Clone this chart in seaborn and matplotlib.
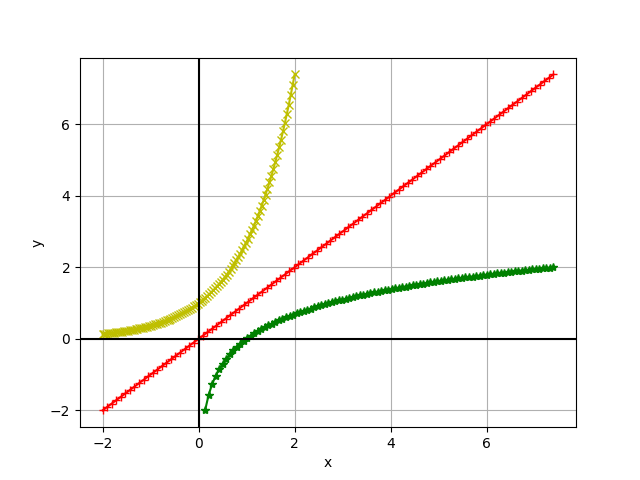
"""exp(x), y = x and ln(x) drawn against each other, with axes through the origin."""
import matplotlib
matplotlib.use('Agg')
import matplotlib.pyplot as plt
import seaborn as sns

# exp(x) sampled on [-2, 2]
exp_x = [-2.000, -1.960, -1.919, -1.879, -1.838, -1.798, -1.758, -1.717, -1.677, -1.636,
         -1.596, -1.556, -1.515, -1.475, -1.434, -1.394, -1.354, -1.313, -1.273, -1.232,
         -1.192, -1.152, -1.111, -1.071, -1.030, -0.990, -0.949, -0.909, -0.869, -0.828,
         -0.788, -0.747, -0.707, -0.667, -0.626, -0.586, -0.545, -0.505, -0.465, -0.424,
         -0.384, -0.343, -0.303, -0.263, -0.222, -0.182, -0.141, -0.101, -0.061, -0.020,
         0.020, 0.061, 0.101, 0.141, 0.182, 0.222, 0.263, 0.303, 0.343, 0.384,
         0.424, 0.465, 0.505, 0.545, 0.586, 0.626, 0.667, 0.707, 0.747, 0.788,
         0.828, 0.869, 0.909, 0.949, 0.990, 1.030, 1.071, 1.111, 1.152, 1.192,
         1.232, 1.273, 1.313, 1.354, 1.394, 1.434, 1.475, 1.515, 1.556, 1.596,
         1.636, 1.677, 1.717, 1.758, 1.798, 1.838, 1.879, 1.919, 1.960, 2.000]
exp_y = [0.135, 0.141, 0.147, 0.153, 0.159, 0.166, 0.172, 0.180, 0.187, 0.195,
         0.203, 0.211, 0.220, 0.229, 0.238, 0.248, 0.258, 0.269, 0.280, 0.292,
         0.304, 0.316, 0.329, 0.343, 0.357, 0.372, 0.387, 0.403, 0.420, 0.437,
         0.455, 0.474, 0.493, 0.513, 0.535, 0.557, 0.580, 0.603, 0.628, 0.654,
         0.681, 0.709, 0.739, 0.769, 0.801, 0.834, 0.868, 0.904, 0.941, 0.980,
         1.020, 1.062, 1.106, 1.152, 1.199, 1.249, 1.300, 1.354, 1.410, 1.468,
         1.528, 1.591, 1.657, 1.725, 1.797, 1.871, 1.948, 2.028, 2.112, 2.199,
         2.289, 2.384, 2.482, 2.584, 2.691, 2.802, 2.917, 3.038, 3.163, 3.293,
         3.429, 3.571, 3.718, 3.871, 4.031, 4.197, 4.370, 4.550, 4.738, 4.933,
         5.137, 5.348, 5.569, 5.799, 6.038, 6.287, 6.546, 6.816, 7.097, 7.389]

# identity line from -2 to e^2
line_x = [-2.000, -1.905, -1.810, -1.715, -1.621, -1.526, -1.431, -1.336, -1.241, -1.146,
          -1.052, -0.957, -0.862, -0.767, -0.672, -0.577, -0.483, -0.388, -0.293, -0.198,
          -0.103, -0.008, 0.086, 0.181, 0.276, 0.371, 0.466, 0.561, 0.655, 0.750,
          0.845, 0.940, 1.035, 1.130, 1.224, 1.319, 1.414, 1.509, 1.604, 1.699,
          1.794, 1.888, 1.983, 2.078, 2.173, 2.268, 2.363, 2.457, 2.552, 2.647,
          2.742, 2.837, 2.932, 3.026, 3.121, 3.216, 3.311, 3.406, 3.501, 3.595,
          3.690, 3.785, 3.880, 3.975, 4.070, 4.165, 4.259, 4.354, 4.449, 4.544,
          4.639, 4.734, 4.828, 4.923, 5.018, 5.113, 5.208, 5.303, 5.397, 5.492,
          5.587, 5.682, 5.777, 5.872, 5.966, 6.061, 6.156, 6.251, 6.346, 6.441,
          6.535, 6.630, 6.725, 6.820, 6.915, 7.010, 7.104, 7.199, 7.294, 7.389]
line_y = list(line_x)

# ln(x) sampled on [e^-2, e^2]
log_x = [0.135, 0.209, 0.282, 0.355, 0.428, 0.502, 0.575, 0.648, 0.721, 0.795,
         0.868, 0.941, 1.015, 1.088, 1.161, 1.234, 1.308, 1.381, 1.454, 1.527,
         1.601, 1.674, 1.747, 1.821, 1.894, 1.967, 2.040, 2.114, 2.187, 2.260,
         2.333, 2.407, 2.480, 2.553, 2.627, 2.700, 2.773, 2.846, 2.920, 2.993,
         3.066, 3.139, 3.213, 3.286, 3.359, 3.432, 3.506, 3.579, 3.652, 3.726,
         3.799, 3.872, 3.945, 4.019, 4.092, 4.165, 4.238, 4.312, 4.385, 4.458,
         4.532, 4.605, 4.678, 4.751, 4.825, 4.898, 4.971, 5.044, 5.118, 5.191,
         5.264, 5.337, 5.411, 5.484, 5.557, 5.631, 5.704, 5.777, 5.850, 5.924,
         5.997, 6.070, 6.143, 6.217, 6.290, 6.363, 6.437, 6.510, 6.583, 6.656,
         6.730, 6.803, 6.876, 6.949, 7.023, 7.096, 7.169, 7.243, 7.316, 7.389]
log_y = [-2.000, -1.567, -1.266, -1.035, -0.848, -0.690, -0.553, -0.434, -0.326, -0.230,
         -0.142, -0.060, 0.014, 0.084, 0.149, 0.211, 0.268, 0.323, 0.374, 0.424,
         0.470, 0.515, 0.558, 0.599, 0.639, 0.677, 0.713, 0.748, 0.782, 0.815,
         0.847, 0.878, 0.908, 0.937, 0.966, 0.993, 1.020, 1.046, 1.071, 1.096,
         1.120, 1.144, 1.167, 1.190, 1.212, 1.233, 1.254, 1.275, 1.295, 1.315,
         1.335, 1.354, 1.373, 1.391, 1.409, 1.427, 1.444, 1.461, 1.478, 1.495,
         1.511, 1.527, 1.543, 1.558, 1.574, 1.589, 1.604, 1.618, 1.633, 1.647,
         1.661, 1.675, 1.688, 1.702, 1.715, 1.728, 1.741, 1.754, 1.767, 1.779,
         1.791, 1.803, 1.815, 1.827, 1.839, 1.851, 1.862, 1.873, 1.885, 1.896,
         1.907, 1.917, 1.928, 1.939, 1.949, 1.960, 1.970, 1.980, 1.990, 2.000]

fig, ax = plt.subplots(figsize=(6.4, 4.8), dpi=100)

# seaborn gives markers a white edge by default, so set it back to the line colour
sns.lineplot(x=exp_x, y=exp_y, ax=ax, color='y', marker='x', markersize=6,
             markeredgecolor='y', markeredgewidth=1, linewidth=1.5)
sns.lineplot(x=line_x, y=line_y, ax=ax, color='r', marker='+', markersize=6,
             markeredgecolor='r', markeredgewidth=1, linewidth=1.5)
sns.lineplot(x=log_x, y=log_y, ax=ax, color='g', marker='*', markersize=6,
             markeredgecolor='g', markeredgewidth=1, linewidth=1.5)

ax.axhline(0, color='k')
ax.axvline(0, color='k')
ax.grid(True)
ax.set(xlabel='x', ylabel='y')

fig.savefig('out.png')
